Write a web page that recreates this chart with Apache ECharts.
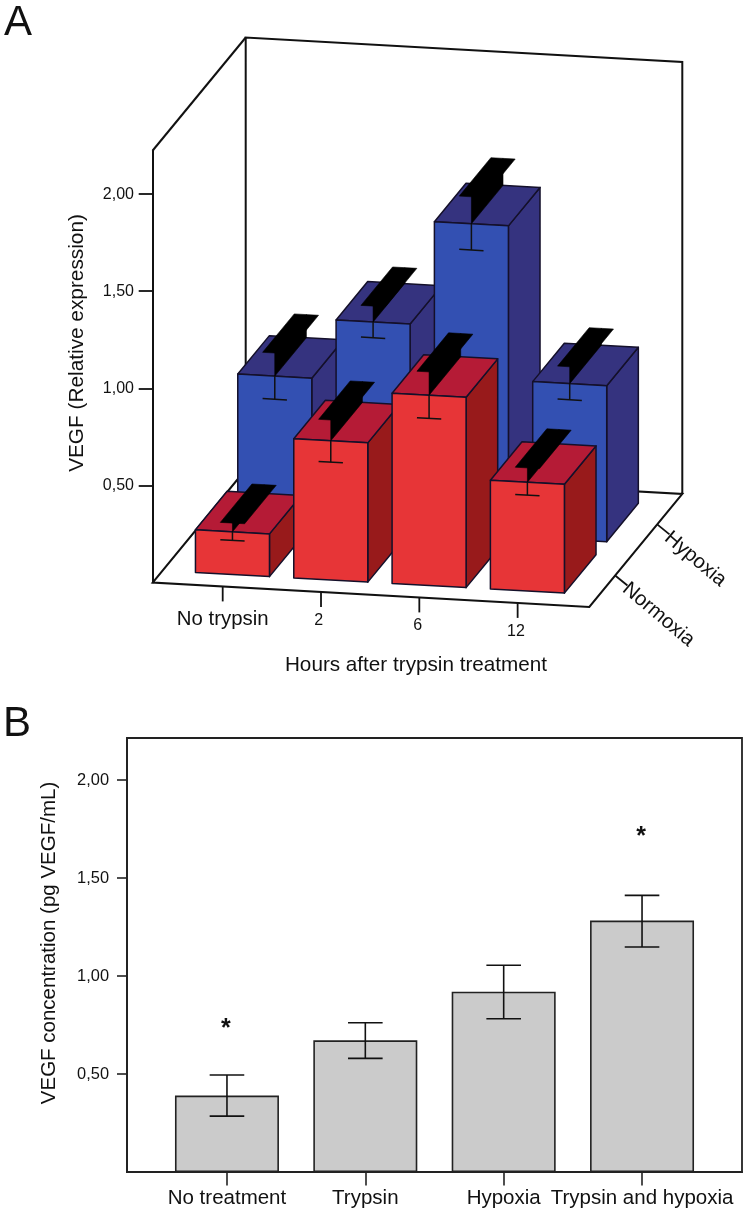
<!DOCTYPE html>
<html>
<head>
<meta charset="utf-8">
<title>VEGF expression and concentration</title>
<style>
    html, body { margin: 0; padding: 0; background: #fff; }
    #chart { width: 747px; height: 1221px; }
</style>
<script src="https://cdn.jsdelivr.net/npm/echarts@6/dist/echarts.min.js"></script>
</head>
<body>
<div id="chart"></div>
<script>
// panel A
const timeLabels = ['No trypsin', '2', '6', '12'];
const oxygenLabels = ['Normoxia', 'Hypoxia'];
const normoxiaValues = [0.22, 0.717, 0.98, 0.56];
const normoxiaLower = [0.176, 0.607, 0.861, 0.494];
const normoxiaUpper = [0.265, 0.824, 1.10, 0.634];
const hypoxiaValues = [0.757, 1.064, 1.598, 0.803];
const hypoxiaLower = [0.638, 0.983, 1.463, 0.72];
const hypoxiaUpper = [0.876, 1.146, 1.737, 0.89];
const axisTicksA = [0.5, 1, 1.5, 2];

// panel B
const treatments = ['No treatment', 'Trypsin', 'Hypoxia', 'Trypsin and hypoxia'];
const concentrations = [0.39, 0.672, 0.92, 1.283];
const concentrationLower = [0.285, 0.58, 0.782, 1.148];
const concentrationUpper = [0.495, 0.762, 1.055, 1.412];
const starTreatments = [0, 3];
const starValues = [0.73, 1.71];
const axisTicksB = [0.5, 1, 1.5, 2];

const FONT = '"Liberation Sans", Arial, sans-serif';
const INK = '#111';

// oblique projection of panel A
const GRID_A = { left: 152.7, top: 150.5, width: 436.6, height: 432 };
const X_MIN_A = -0.712;
const X_MAX_A = 3.729;
const Y_MAX_A = 2.2245;
const DEPTH_X = 93;
const DEPTH_Y = 113;
const FLOOR_SLOPE = 0.0559;
const BAR_HALF = 0.3764;
const BAR_DEPTH = 0.34;
const CAP_HALF = 0.1236;

function project(api, i, v, z) {
    const p = api.coord([i, v]);
    return [
        p[0] + z * DEPTH_X,
        p[1] + (p[0] - GRID_A.left) * FLOOR_SLOPE - z * DEPTH_Y
    ];
}

function poly(points, fill, stroke, width) {
    return {
        type: 'polygon',
        shape: { points: points },
        style: { fill: fill, stroke: stroke || fill, lineWidth: width === undefined ? 1.5 : width, lineJoin: 'round' }
    };
}

function line(points, width) {
    return {
        type: 'polyline',
        shape: { points: points },
        style: { fill: 'none', stroke: INK, lineWidth: width || 1.5 }
    };
}

function label(text, x, y, size, rotation, align, weight) {
    return {
        type: 'text',
        x: x,
        y: y,
        rotation: rotation || 0,
        style: {
            text: text,
            fontFamily: FONT,
            fontSize: size,
            fontWeight: weight || 'normal',
            fill: INK,
            align: align || 'center',
            verticalAlign: 'middle'
        }
    };
}

/**
 * 상자 + 오차 막대 (뒤쪽 줄부터 그림)
 */
function barRenderer(zFront, colors) {
    return function (params, api) {
        const i = api.value(0);
        const v = api.value(1);
        const low = api.value(2);
        const up = api.value(3);
        const zBack = zFront + BAR_DEPTH;
        const p = (x, val, z) => project(api, x, val, z);

        return {
            type: 'group',
            children: [
                poly([p(i + BAR_HALF, 0, zFront), p(i + BAR_HALF, v, zFront), p(i + BAR_HALF, v, zBack), p(i + BAR_HALF, 0, zBack)], colors.side, '#14102a'),
                poly([p(i - BAR_HALF, v, zFront), p(i + BAR_HALF, v, zFront), p(i + BAR_HALF, v, zBack), p(i - BAR_HALF, v, zBack)], colors.top, '#14102a'),
                poly([p(i - BAR_HALF, 0, zFront), p(i + BAR_HALF, 0, zFront), p(i + BAR_HALF, v, zFront), p(i - BAR_HALF, v, zFront)], colors.front, '#14102a'),
                // upper whisker seen in depth
                poly([p(i, v, zFront), p(i, v, zBack), p(i, up, zBack), p(i, up, zFront)], '#000', '#000', 0.6),
                poly([p(i - CAP_HALF, up, zFront), p(i + CAP_HALF, up, zFront), p(i + CAP_HALF, up, zBack), p(i - CAP_HALF, up, zBack)], '#000', '#000', 0.6),
                line([p(i, v, zFront), p(i, low, zFront)]),
                line([p(i - CAP_HALF, low, zFront), p(i + CAP_HALF, low, zFront)])
            ]
        };
    };
}

function renderFrame(params, api) {
    const p = (x, val, z) => project(api, x, val, z);
    const children = [
        line([p(X_MIN_A, 0, 1), p(X_MIN_A, 0, 0), p(X_MAX_A, 0, 0), p(X_MAX_A, 0, 1), p(X_MIN_A, 0, 1), p(X_MIN_A, Y_MAX_A, 1), p(X_MAX_A, Y_MAX_A, 1), p(X_MAX_A, 0, 1)], 2),
        line([p(X_MIN_A, Y_MAX_A, 0), p(X_MIN_A, Y_MAX_A, 1)], 2)
    ];

    // 시간 눈금
    const labelDrop = [33, 29, 28.5, 28.7];
    const labelSize = [20.4, 16, 16, 16];
    const labelShift = [0, -2.3, -1.6, -1.7];
    timeLabels.forEach((text, i) => {
        const base = p(i, 0, 0);
        children.push(line([base, [base[0], base[1] + 15]], 1.8));
        children.push(label(text, base[0] + labelShift[i], base[1] + labelDrop[i], labelSize[i]));
    });

    // 깊이 눈금
    const depthAt = [0.278, 0.73];
    oxygenLabels.forEach((text, k) => {
        const base = p(X_MAX_A, 0, depthAt[k]);
        children.push(line([base, [base[0] + 12.3, base[1] + 10]], 1.8));
        children.push(label(text, base[0] + 10, base[1] + 11, 20.4, -0.7, 'left'));
    });

    return { type: 'group', children: children };
}

function renderWhisker(params, api) {
    const top = api.coord([api.value(0), api.value(2)]);
    const bottom = api.coord([api.value(0), api.value(1)]);
    const cap = 17.3;
    return {
        type: 'group',
        children: [
            line([top, bottom], 1.6),
            line([[top[0] - cap, top[1]], [top[0] + cap, top[1]]], 1.6),
            line([[bottom[0] - cap, bottom[1]], [bottom[0] + cap, bottom[1]]], 1.6)
        ]
    };
}

function renderStar(params, api) {
    const p = api.coord([api.value(0), api.value(1)]);
    return label('*', p[0] - 1, p[1], 25, 0, 'center', 'bold');
}

function rowData(values, lower, upper) {
    return values.map((v, i) => [i, v, lower[i], upper[i]]);
}

function tickLabel(v) {
    return v.toFixed(2).replace('.', ',');
}

function initChart() {
    const chart = echarts.init(document.getElementById('chart'), null, { renderer: 'canvas' });
    const option = {
        animation: false,
        backgroundColor: '#fff',
        grid: [
            { left: GRID_A.left, top: GRID_A.top, width: GRID_A.width, height: GRID_A.height, show: false },
            { left: 127, top: 738, width: 615, height: 434, show: true, borderColor: '#222', borderWidth: 1.8, backgroundColor: 'transparent' }
        ],
        xAxis: [
            { gridIndex: 0, type: 'value', min: X_MIN_A, max: X_MAX_A, show: false },
            {
                gridIndex: 1,
                type: 'value',
                min: -0.7225,
                max: 3.7225,
                splitLine: { show: false },
                axisLine: { show: true, onZero: false, lineStyle: { color: '#222', width: 1.8 } },
                axisTick: { show: true, length: 13.5, customValues: [0, 1, 2, 3], lineStyle: { color: '#222', width: 1.6 } },
                axisLabel: {
                    customValues: [0, 1, 2, 3],
                    formatter: v => treatments[v],
                    hideOverlap: false,
                    color: INK,
                    fontFamily: FONT,
                    fontSize: 20.5,
                    margin: 15.5
                }
            }
        ],
        yAxis: [
            {
                gridIndex: 0,
                type: 'value',
                min: 0,
                max: Y_MAX_A,
                interval: 0.5,
                splitLine: { show: false },
                axisLine: { show: true, onZero: false, lineStyle: { color: INK, width: 2 } },
                axisTick: { show: true, length: 14, customValues: axisTicksA, lineStyle: { color: INK, width: 1.8 } },
                axisLabel: { customValues: axisTicksA, formatter: tickLabel, color: INK, fontFamily: FONT, fontSize: 16, margin: 18.7 }
            },
            {
                gridIndex: 1,
                type: 'value',
                min: 0,
                max: 2.215,
                interval: 0.5,
                splitLine: { show: false },
                axisLine: { show: true, onZero: false, lineStyle: { color: '#222', width: 1.8 } },
                axisTick: { show: true, length: 10, customValues: axisTicksB, lineStyle: { color: '#222', width: 1.6 } },
                axisLabel: { customValues: axisTicksB, formatter: tickLabel, color: INK, fontFamily: FONT, fontSize: 16.4, margin: 18 }
            }
        ],
        series: [
            { type: 'custom', name: 'frame', xAxisIndex: 0, yAxisIndex: 0, silent: true, data: [[0, 0]], renderItem: renderFrame },
            {
                type: 'custom',
                name: 'Hypoxia',
                xAxisIndex: 0,
                yAxisIndex: 0,
                silent: true,
                data: rowData(hypoxiaValues, hypoxiaLower, hypoxiaUpper),
                renderItem: barRenderer(0.56, { front: '#3350b2', top: '#35337f', side: '#35337f' })
            },
            {
                type: 'custom',
                name: 'Normoxia',
                xAxisIndex: 0,
                yAxisIndex: 0,
                silent: true,
                data: rowData(normoxiaValues, normoxiaLower, normoxiaUpper),
                renderItem: barRenderer(0.105, { front: '#e73537', top: '#b51b36', side: '#981a1b' })
            },
            {
                type: 'bar',
                name: 'VEGF concentration',
                xAxisIndex: 1,
                yAxisIndex: 1,
                barWidth: 104,
                silent: true,
                itemStyle: { color: '#cbcbcb', borderColor: '#222', borderWidth: 1.6 },
                data: concentrations.map((v, i) => [i, v])
            },
            {
                type: 'custom',
                name: 'error',
                xAxisIndex: 1,
                yAxisIndex: 1,
                silent: true,
                z: 3,
                data: concentrationLower.map((v, i) => [i, v, concentrationUpper[i]]),
                renderItem: renderWhisker
            },
            {
                type: 'custom',
                name: 'significance',
                xAxisIndex: 1,
                yAxisIndex: 1,
                silent: true,
                z: 3,
                data: starTreatments.map((t, i) => [t, starValues[i]]),
                renderItem: renderStar
            }
        ],
        graphic: [
            { type: 'text', x: 4, y: 2, style: { text: 'A', fontFamily: FONT, fontSize: 42, fill: INK } },
            { type: 'text', x: 3, y: 703, style: { text: 'B', fontFamily: FONT, fontSize: 42, fill: INK } },
            { type: 'text', x: 77, y: 343, rotation: Math.PI / 2, style: { text: 'VEGF (Relative expression)', fontFamily: FONT, fontSize: 20.8, fill: INK, align: 'center', verticalAlign: 'middle' } },
            { type: 'text', x: 416, y: 665, style: { text: 'Hours after trypsin treatment', fontFamily: FONT, fontSize: 20.7, fill: INK, align: 'center', verticalAlign: 'middle' } },
            { type: 'text', x: 49, y: 943, rotation: Math.PI / 2, style: { text: 'VEGF concentration (pg VEGF/mL)', fontFamily: FONT, fontSize: 20.5, fill: INK, align: 'center', verticalAlign: 'middle' } }
        ]
    };
    chart.setOption(option);
}

document.addEventListener('DOMContentLoaded', initChart);
</script>
</body>
</html>
